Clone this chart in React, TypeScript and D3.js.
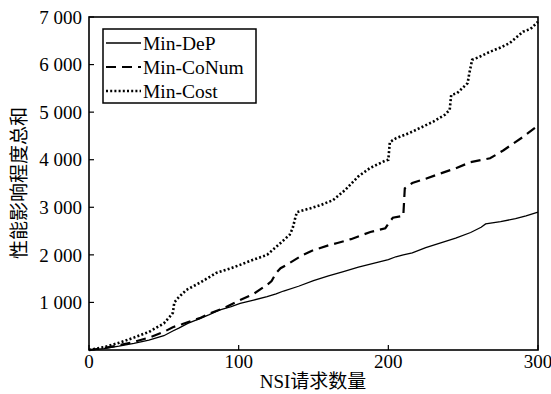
import React from "react";
import * as d3 from "d3";

const xTicks = [0, 100, 200, 300];
const yTicks = [1000, 2000, 3000, 4000, 5000, 6000, 7000];
const yTickLabels = ["1 000", "2 000", "3 000", "4 000", "5 000", "6 000", "7 000"];

const depX = [0,10,20,30,40,50,56,60,66,74,80,87,95,101,110,119,125,130,140,150,160,170,180,190,200,205,210,216,225,235,245,255,262,265,275,285,292,300];
const depY = [0,30,80,140,210,300,400,460,560,660,740,840,910,980,1050,1120,1180,1240,1340,1460,1560,1650,1740,1820,1900,1960,2000,2040,2150,2250,2350,2470,2580,2650,2700,2760,2820,2900];

const coNumX = [0,10,20,30,41,50,56,62,74,80,90,101,110,119,122,125,128,132,143,150,160,166,175,188,198,201,203,210,211,216,225,232,245,255,268,277,290,300];
const coNumY = [0,40,100,170,270,380,480,540,670,760,880,1050,1180,1370,1450,1620,1720,1790,2000,2100,2200,2250,2330,2480,2560,2700,2780,2820,3400,3510,3600,3680,3820,3950,4030,4200,4480,4720];

const costX = [0,10,20,30,40,50,54,56,57,60,65,75,85,95,101,110,119,128,134,136,138,139,148,155,163,171,180,188,198,200,201,205,214,222,230,238,241,242,246,253,254,256,260,268,275,281,290,295,300];
const costY = [0,60,150,260,380,560,700,780,1000,1110,1260,1430,1620,1720,1790,1900,2000,2250,2420,2550,2800,2900,2980,3050,3150,3360,3650,3830,3980,4000,4370,4450,4560,4680,4800,4950,5050,5360,5400,5610,5800,6100,6150,6270,6360,6450,6690,6750,6900];

const seriesNames = ["Min-DeP", "Min-CoNum", "Min-Cost"];

const W = 551, H = 394;
const L = 89, R = 538, T = 17, B = 350;
const FONT = '"Liberation Serif", "Times New Roman", "Noto Sans CJK SC", serif';

export default function App() {
  const x = d3.scaleLinear().domain([0, 300]).range([L, R]);
  const y = d3.scaleLinear().domain([0, 7000]).range([B, T]);
  const line = d3.line<[number, number]>().x(d => x(d[0])).y(d => y(d[1]));
  const zip = (xs: number[], ys: number[]) => xs.map((v, i) => [v, ys[i]] as [number, number]);

  const styles = [
    { dash: "", width: 1.3 },
    { dash: "10,6", width: 2.2 },
    { dash: "2,2.2", width: 2.6 },
  ];
  const data = [zip(depX, depY), zip(coNumX, coNumY), zip(costX, costY)];

  return (
    <svg width={W} height={H} style={{ position: "absolute", left: 0, top: 0, background: "#fff" }} fontFamily={FONT}>
      <rect x={0} y={0} width={W} height={H} fill="#fff" />
      {data.map((d, i) => (
        <path key={i} d={line(d) || ""} fill="none" stroke="#000" strokeWidth={styles[i].width} strokeDasharray={styles[i].dash} />
      ))}
      <rect x={L} y={T} width={R - L} height={B - T} fill="none" stroke="#000" strokeWidth={1.6} />
      {yTicks.map((t, i) => (
        <g key={t}>
          <line x1={L} x2={L + 5} y1={y(t)} y2={y(t)} stroke="#000" strokeWidth={1.2} />
          <text x={L - 7} y={y(t)} dy="0.35em" textAnchor="end" fontSize={19}>{yTickLabels[i]}</text>
        </g>
      ))}
      {xTicks.map(t => (
        <g key={t}>
          <line x1={x(t)} x2={x(t)} y1={B} y2={B - 5} stroke="#000" strokeWidth={1.2} />
          <text x={x(t)} y={B + 18} textAnchor="middle" fontSize={19}>{t}</text>
        </g>
      ))}
      <text x={313} y={388} textAnchor="middle" fontSize={19}>NSI请求数量</text>
      <text transform="translate(26,183) rotate(-90)" textAnchor="middle" fontSize={19}>性能影响程度总和</text>
      <rect x={103} y={29} width={153} height={74} fill="#fff" stroke="#000" strokeWidth={1.5} />
      {seriesNames.map((n, i) => {
        const cy = 43 + i * 24;
        return (
          <g key={n}>
            <line x1={106} x2={141} y1={cy} y2={cy} stroke="#000" strokeWidth={styles[i].width} strokeDasharray={styles[i].dash} />
            <text x={143} y={cy} dy="0.35em" fontSize={19.5}>{n}</text>
          </g>
        );
      })}
    </svg>
  );
}
